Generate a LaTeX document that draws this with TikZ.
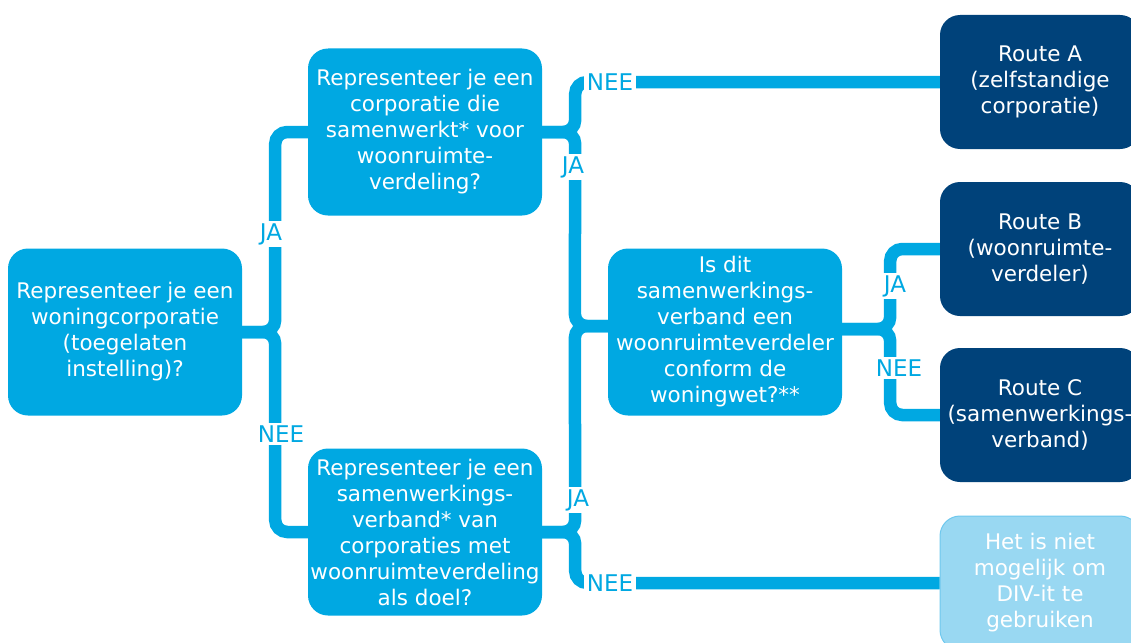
\documentclass[tikz,border=0pt]{standalone}
\usepackage{fontspec}
\setmainfont{DejaVu Sans}
\usetikzlibrary{calc}
\definecolor{divblauw}{RGB}{0,168,226}
\definecolor{divdonker}{RGB}{0,66,122}
\definecolor{divlicht}{RGB}{153,216,242}
\definecolor{divrand}{RGB}{110,200,238}
\tikzset{
    vraag/.style={rectangle, rounded corners=20pt, fill=divblauw, text=white,
    	minimum width=234pt, minimum height=167pt, align=center, inner sep=0pt,
    	font=\fontsize{21.5}{26}\selectfont}
}
\tikzset{
    route/.style={vraag, fill=divdonker, minimum width=200pt, minimum height=134pt}
}
\tikzset{
    geenroute/.style={route, fill=divlicht, draw=divrand, line width=1pt}
}
\tikzset{
    pijl/.style={draw=divblauw, line width=12.5pt, rounded corners=12pt}
}
\tikzset{
    antw/.style={fill=white, text=divblauw, inner sep=2.5pt,
    	font=\fontsize{23}{26}\selectfont}
}

\begin{document}
\begin{tikzpicture}[x=1pt, y=-1pt]
  \useasboundingbox (0,0) rectangle (1131,642);
  \clip (0,0) rectangle (1131,642);

  \node (q1) [vraag] at (125, 332) {Representeer je een\\woningcorporatie\\(toegelaten\\instelling)?};
  \node (q2) [vraag] at (425, 132) {Representeer je een\\corporatie die\\samenwerkt* voor\\woonruimte-\\verdeling?};
  \node (q3) [vraag] at (425, 532) {Representeer je een\\samenwerkings-\\verband* van\\corporaties met\\woonruimteverdeling\\als doel?};
  \node (q4) [vraag] at (725, 332) {Is dit\\samenwerkings-\\verband een\\woonruimteverdeler\\conform de\\woningwet?**};

  \node (ra) [route] at (1040, 82) {Route A\\(zelfstandige\\corporatie)};
  \node (rb) [route] at (1040, 249) {Route B\\(woonruimte-\\verdeler)};
  \node (rc) [route] at (1040, 415) {Route C\\(samenwerkings-\\verband)};
  \node (rx) [geenroute] at (1040, 583) {Het is niet\\mogelijk om\\DIV-it te\\gebruiken};

  \coordinate (jl) at ($(q1.east)+(33,0)$);
  \coordinate (jt) at ($(q2.east)+(33,0)$);
  \coordinate (jb) at ($(q3.east)+(33,0)$);
  \coordinate (jm) at ($(q4.west)+(-33,-6)$);
  \coordinate (jr) at ($(q4.east)+(48,-3)$);

  % eerste vraag
  \draw [pijl] (q2.west) -| (jl) -- (q1.east);
  \draw [pijl] (q3.west) -| (jl) -- (q1.east);

  % tweede en derde vraag
  \draw [pijl] (q2.east) -- (jt) |- (ra.west);
  \draw [pijl] (q2.east) -- (jt) -- (jm) -- (jm -| q4.west);
  \draw [pijl] (q3.east) -- (jb) -- (jm) -- (jm -| q4.west);
  \draw [pijl] (q3.east) -- (jb) |- (rx.west);

  % woonruimteverdeler
  \draw [pijl] (jr -| q4.east) -- (jr) |- (rb.west);
  \draw [pijl] (jr -| q4.east) -- (jr) |- (rc.west);

  \node (ja1) [antw] at (271, 234) {JA};
  \node (nee1) [antw] at (281, 434) {NEE};
  \node (nee2) [antw] at (610, 82) {NEE};
  \node (ja2) [antw] at (573, 167) {JA};
  \node (ja3) [antw] at (578, 500) {JA};
  \node (nee3) [antw] at (610, 583) {NEE};
  \node (ja4) [antw] at (895, 286) {JA};
  \node (nee4) [antw] at (899, 368) {NEE};
\end{tikzpicture}
\end{document}
